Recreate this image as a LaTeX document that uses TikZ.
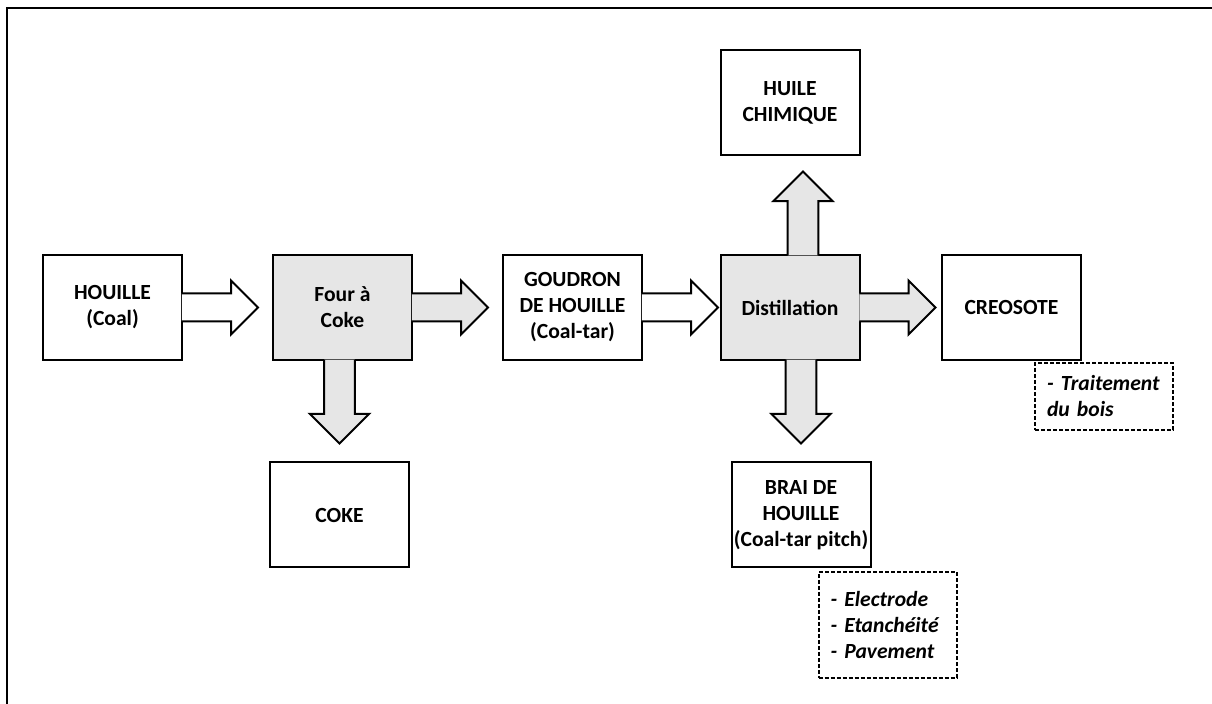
\documentclass[tikz,border=0pt]{standalone}
\usepackage{fontspec}
\setmainfont{Carlito}
\usetikzlibrary{calc}
\definecolor{boxgray}{RGB}{230,230,230}

\begin{document}
\begin{tikzpicture}[x=0.5pt, y=-0.5pt, line width=1pt,
  box/.style={draw, fill=white, minimum width=69.5pt, minimum height=52.5pt, inner sep=1pt, align=center, font=\bfseries\fontsize{10.8}{13}\selectfont},
  hotbox/.style={box, fill=boxgray},
  usage/.style={draw, line width=1pt, dash pattern=on 2pt off 1pt, minimum width=69pt, text width=57pt, inner xsep=6pt, align=left, font=\bfseries\itshape\fontsize{10.8}{13}\selectfont},
  fatarrow/.pic={\filldraw[pic actions] (-1.2,14) -- (48,14) -- (48,27) -- (75,0) -- (48,-27) -- (48,-14) -- (-1.2,-14);}
]
 \useasboundingbox (0,0) rectangle (1212,704);
 \draw (7,704) -- (7,8) -- (1212,8);

 \node[box] (houille) at (112.5,307.5) {HOUILLE\\(Coal)};
 \node[hotbox] (four) at (342.5,307.5) {Four à\\Coke};
 \node[box] (coke) at (339.5,515) {COKE};
 \node[box] (goudron) at (572.5,307.5) {GOUDRON\\DE HOUILLE\\(Coal-tar)};
 \node[hotbox] (distil) at (790,307.5) {Distillation};
 \node[box] (huile) at (790,103) {HUILE\\CHIMIQUE};
 \node[box] (creosote) at (1011.5,307.5) {CREOSOTE};
 \node[box] (brai) at (801,515) {BRAI DE\\HOUILLE\\(Coal-tar pitch)};

 \node[usage, minimum height=33.5pt] (bois) at (1104,396.5) {- Traitement\\du bois};
 \node[usage, minimum height=53pt] (emplois) at (887.5,625) {- Electrode\\- Etanchéité\\- Pavement};

 % block arrows
 \pic[fill=white] at (houille.east) {fatarrow};
 \pic[fill=boxgray] at (four.east) {fatarrow};
 \pic[fill=boxgray, rotate=-90, scale=1.1] at (coke.north |- four.south) {fatarrow};
 \pic[fill=white] at (goudron.east) {fatarrow};
 \pic[fill=boxgray] at (distil.east) {fatarrow};
 \pic[fill=boxgray, rotate=90, scale=1.1] at ($(distil.north)+(13,0)$) {fatarrow};
 \pic[fill=boxgray, rotate=-90, scale=1.1] at (brai.north |- distil.south) {fatarrow};
\end{tikzpicture}
\end{document}
